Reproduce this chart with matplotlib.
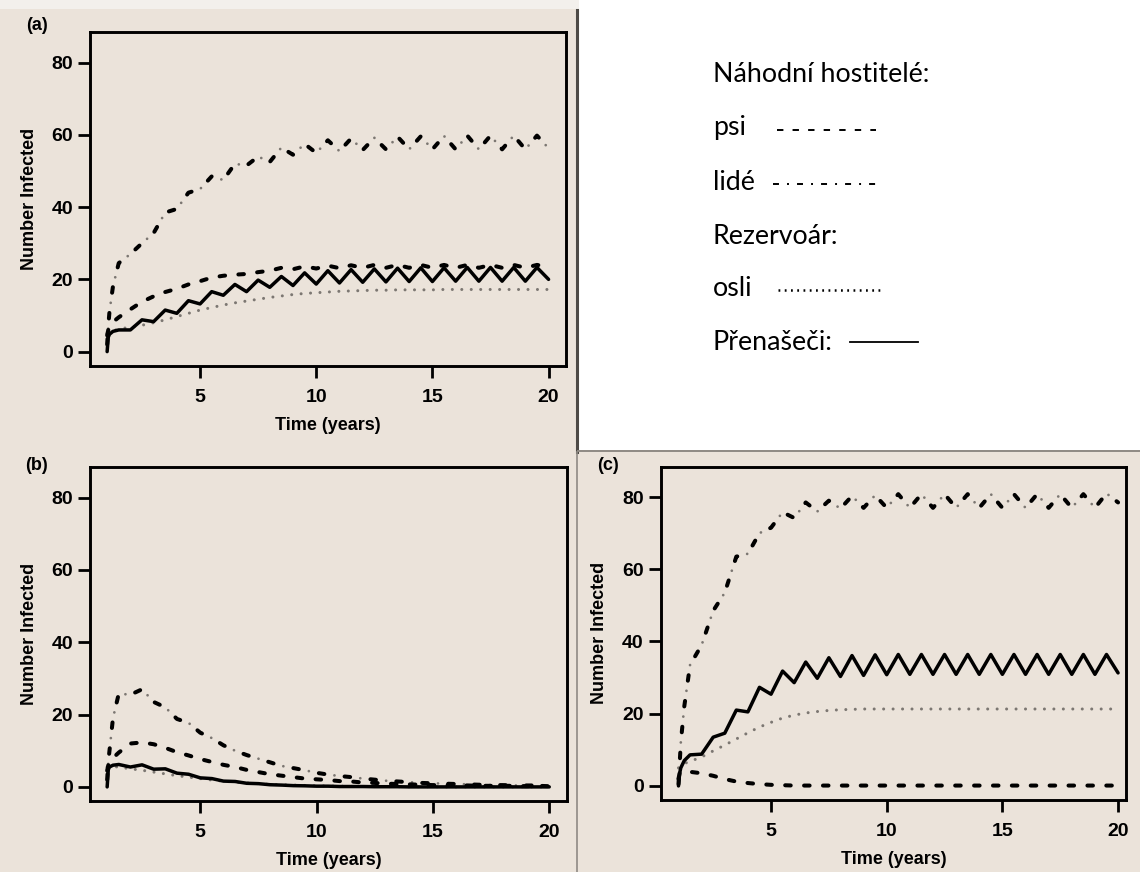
import matplotlib
matplotlib.use("Agg")
import matplotlib.pyplot as plt
from matplotlib.lines import Line2D
from matplotlib.patches import Rectangle

plt.rcParams['lines.scale_dashes'] = False
plt.rcParams['font.family'] = ['Liberation Sans', 'DejaVu Sans']
plt.rcParams['font.weight'] = 'bold'

# ---------------- data ----------------
time_years = [1.0, 1.05, 1.1, 1.25, 1.5, 2.0, 2.5, 3.0, 3.5, 4.0, 4.5, 5.0, 5.5, 6.0,
              6.5, 7.0, 7.5, 8.0, 8.5, 9.0, 9.5, 10.0, 10.5, 11.0, 11.5, 12.0, 12.5,
              13.0, 13.5, 14.0, 14.5, 15.0, 15.5, 16.0, 16.5, 17.0, 17.5, 18.0, 18.5,
              19.0, 19.5, 20.0]

# panel (a)
vectors_a = [0.0, 4.0, 4.8, 5.6, 6.0, 6.0, 8.8, 8.3, 11.5, 10.6, 14.1, 13.2, 16.6, 15.6,
             18.6, 16.6, 19.8, 17.8, 20.8, 18.3, 21.8, 18.7, 22.4, 19.0, 22.7, 19.2, 22.9,
             19.3, 23.1, 19.4, 23.2, 19.4, 23.2, 19.5, 23.3, 19.5, 23.3, 19.5, 23.3, 19.5,
             23.3, 20.0]
dogs_a = [4.5, 6.0, 7.0, 8.2, 9.5, 11.7, 13.8, 15.3, 16.5, 17.4, 18.6, 19.5, 20.5, 21.0,
          21.3, 21.5, 22.0, 22.4, 23.2, 22.8, 23.6, 23.0, 23.8, 23.1, 23.9, 23.2, 24.0,
          23.2, 24.0, 23.2, 24.0, 23.2, 24.0, 23.2, 24.0, 23.2, 24.0, 23.2, 24.0, 23.2,
          24.0, 23.5]
humans_a = [2.0, 7.0, 11.0, 18.0, 24.5, 27.0, 30.0, 32.8, 38.5, 39.5, 44.0, 45.0, 48.5, 47.5,
            52.0, 51.5, 54.0, 52.5, 56.5, 54.5, 57.5, 55.0, 58.5, 55.5, 59.0, 55.8, 59.2,
            56.0, 59.5, 56.0, 59.6, 56.0, 59.7, 56.0, 59.8, 56.0, 59.8, 56.0, 59.8, 56.0,
            59.8, 56.3]
donkeys_a = [5.0, 5.3, 5.5, 5.8, 6.2, 6.8, 7.3, 8.0, 8.8, 9.7, 10.6, 11.5, 12.2, 12.9,
             13.5, 14.0, 14.5, 15.0, 15.4, 15.8, 16.1, 16.3, 16.5, 16.7, 16.8, 16.9, 17.0,
             17.0, 17.1, 17.1, 17.1, 17.1, 17.2, 17.2, 17.2, 17.2, 17.2, 17.2, 17.2, 17.2,
             17.2, 17.2]

# panel (b)
vectors_b = [0.0, 4.8, 5.5, 6.0, 6.2, 5.5, 6.1, 4.9, 5.0, 3.8, 3.5, 2.5, 2.3, 1.6,
             1.5, 1.0, 0.9, 0.6, 0.5, 0.35, 0.3, 0.2, 0.2, 0.1, 0.1, 0.1, 0.05,
             0.05, 0.05, 0.0, 0.0, 0.0, 0.0, 0.0, 0.0, 0.0, 0.0, 0.0, 0.0, 0.0,
             0.0, 0.0]
dogs_b = [4.5, 6.0, 7.0, 8.0, 9.5, 12.0, 12.3, 11.8, 10.8, 9.6, 8.7, 7.7, 6.9, 6.1,
          5.5, 4.7, 4.1, 3.5, 3.1, 2.7, 2.3, 2.1, 1.9, 1.6, 1.5, 1.2, 1.1,
          0.9, 0.8, 0.7, 0.6, 0.5, 0.5, 0.4, 0.4, 0.3, 0.3, 0.3, 0.3, 0.2,
          0.3, 0.2]
humans_b = [2.0, 7.0, 10.0, 19.0, 25.8, 25.5, 27.0, 23.5, 22.0, 18.8, 17.7, 15.0, 13.5, 11.5,
            10.0, 8.8, 7.8, 6.8, 5.8, 5.2, 4.6, 3.9, 3.4, 3.0, 2.7, 2.3, 2.0,
            1.7, 1.5, 1.3, 1.1, 1.0, 0.9, 0.8, 0.7, 0.6, 0.5, 0.5, 0.4, 0.4,
            0.4, 0.3]
donkeys_b = [5.5, 5.6, 5.6, 5.6, 5.5, 5.0, 4.6, 4.1, 3.6, 3.1, 2.7, 2.3, 1.9, 1.6,
             1.3, 1.1, 0.9, 0.7, 0.6, 0.5, 0.4, 0.3, 0.25, 0.2, 0.15, 0.1, 0.1,
             0.1, 0.05, 0.05, 0.05, 0.05, 0.0, 0.0, 0.0, 0.0, 0.0, 0.0, 0.0, 0.0,
             0.0, 0.0]

# panel (c)
vectors_c = [0.0, 3.5, 5.0, 7.0, 8.6, 8.8, 13.5, 14.6, 21.0, 20.5, 27.3, 25.4, 31.8, 28.6,
             34.3, 29.8, 35.5, 30.3, 36.1, 30.6, 36.3, 30.8, 36.4, 30.9, 36.4, 30.9, 36.4,
             30.9, 36.4, 30.9, 36.4, 30.9, 36.4, 30.9, 36.4, 30.9, 36.4, 30.9, 36.4, 30.9,
             36.4, 31.3]
dogs_c = [2.0, 3.5, 4.0, 4.0, 3.9, 3.5, 2.8, 1.9, 1.2, 0.8, 0.5, 0.3, 0.2, 0.1,
          0.1, 0.1, 0.1, 0.1, 0.1, 0.1, 0.1, 0.1, 0.1, 0.1, 0.1, 0.1, 0.1,
          0.1, 0.1, 0.1, 0.1, 0.1, 0.1, 0.1, 0.1, 0.1, 0.1, 0.1, 0.1, 0.1,
          0.1, 0.1]
humans_c = [0.5, 6.0, 12.0, 22.0, 33.5, 39.0, 48.5, 53.5, 63.5, 64.3, 70.0, 71.5, 75.8, 74.2,
            78.5, 76.0, 79.0, 76.8, 80.3, 77.0, 80.5, 77.0, 80.8, 77.0, 80.8, 77.0, 80.8,
            77.0, 80.8, 77.0, 80.8, 77.0, 80.8, 77.0, 80.8, 77.0, 80.8, 77.0, 80.8, 77.0,
            81.0, 78.5]
donkeys_c = [5.0, 5.3, 5.6, 6.2, 6.8, 8.0, 9.7, 11.3, 13.0, 14.7, 16.3, 17.6, 18.8, 19.6,
             20.2, 20.6, 20.9, 21.1, 21.2, 21.3, 21.3, 21.3, 21.3, 21.3, 21.3, 21.3, 21.3,
             21.3, 21.3, 21.3, 21.3, 21.3, 21.3, 21.3, 21.3, 21.3, 21.3, 21.3, 21.3, 21.3,
             21.3, 21.3]

x_ticks = [5, 10, 15, 20]
y_ticks = [0, 20, 40, 60, 80]
panel_labels = ['(a)', '(b)', '(c)']
x_label = 'Time (years)'
y_label = 'Number Infected'
legend_lines = ['Náhodní hostitelé:', 'psi', 'lidé', 'Rezervoár:', 'osli', 'Přenašeči:']

# ---------------- figure ----------------
W, H = 1140, 872
BG = '#ebe3da'
fig = plt.figure(figsize=(W / 100, H / 100), dpi=100, facecolor=BG)


def fx(px):
    return px / W


def fy(py):
    return 1 - py / H


# white legend area + borders
fig.add_artist(Rectangle((fx(579), fy(450)), 1 - fx(579), fy(0) - fy(450),
                         transform=fig.transFigure, facecolor='white', edgecolor='none', zorder=0))
fig.add_artist(Rectangle((0, fy(9)), fx(579), 1 - fy(9), transform=fig.transFigure,
                         facecolor='#f3f0ec', edgecolor='none', zorder=0))
fig.add_artist(Line2D([fx(577), fx(577)], [fy(10), fy(452)], transform=fig.transFigure,
                      color='#4d4a46', lw=2.2, zorder=1))
fig.add_artist(Line2D([fx(578), fx(1140)], [fy(451), fy(451)], transform=fig.transFigure,
                      color='#8f8a84', lw=1.4, zorder=1))
fig.add_artist(Line2D([fx(577), fx(577)], [fy(452), fy(872)], transform=fig.transFigure,
                      color='#8f8a84', lw=1.2, zorder=1))

axes_px = [
    (90.4, 32.3, 566.0, 365.7, (0.28, 20.75)),
    (90.4, 467.3, 566.7, 801.0, (0.28, 20.75)),
    (660.9, 466.7, 1126.4, 800.0, (0.24, 20.36)),
]
ylab_x = [-0.110, -0.110, -0.114]

series = [
    (vectors_a, dogs_a, humans_a, donkeys_a),
    (vectors_b, dogs_b, humans_b, donkeys_b),
    (vectors_c, dogs_c, humans_c, donkeys_c),
]

GRAY = '#7c7772'
for i, (l, t, r, b, xl) in enumerate(axes_px):
    ax = fig.add_axes([fx(l), fy(b), fx(r) - fx(l), fy(t) - fy(b)])
    ax.set_facecolor(BG)
    vec, dog, hum, don = series[i]
    # donkeys: dotted grey
    ax.plot(time_years, don, color=GRAY, lw=2.2, linestyle=(0, (0.01, 6.8)),
            dash_capstyle='round')
    # humans: dash-dot (black dashes, grey dots)
    ax.plot(time_years, hum, color=GRAY, lw=2.0, linestyle=(7.35, (0.01, 18.69)),
            dash_capstyle='round')
    ax.plot(time_years, hum, color='black', lw=2.9, linestyle=(0, (4.0, 14.7)),
            dash_capstyle='round')
    # dogs: dashed
    ax.plot(time_years, dog, color='black', lw=2.9, linestyle=(0, (4.0, 9.6)),
            dash_capstyle='round')
    # vectors: solid
    ax.plot(time_years, vec, color='black', lw=2.5, solid_joinstyle='round',
            solid_capstyle='round')

    ax.set_xlim(*xl)
    ax.set_ylim(-3.9, 88.4)
    ax.set_xticks(x_ticks)
    ax.set_yticks(y_ticks)
    ax.tick_params(axis='both', direction='out', length=8.8, width=2.0, labelsize=14,
                   colors='black')
    ax.tick_params(axis='x', pad=8)
    ax.tick_params(axis='y', pad=3.5)
    for sp in ax.spines.values():
        sp.set_linewidth(2.1)
        sp.set_color('black')
    ax.set_xlabel(x_label, fontsize=13, fontweight='bold', labelpad=8)
    ax.set_ylabel(y_label, fontsize=13, fontweight='bold')
    ax.yaxis.set_label_coords(ylab_x[i], 0.5)

# panel letters
for lab, (px, py) in zip(panel_labels, [(37, 25), (37, 465), (608, 465)]):
    fig.text(fx(px), fy(py), lab, fontsize=13, fontweight='bold', ha='center', va='center')

# legend text (normal weight, Calibri-like)
LF = ['Lato', 'DejaVu Sans']
rows_y = [75, 128, 182, 237, 289, 342]
for txt, yy in zip(legend_lines, rows_y):
    fig.text(fx(713), fy(yy), txt, fontsize=19.3, fontweight='normal', family=LF,
             ha='left', va='center', color='black')

# legend samples
fig.add_artist(Line2D([fx(777), fx(876)], [fy(130), fy(130)], transform=fig.transFigure,
                      color='black', lw=1.4, linestyle=(0, (4.6, 6.6)), dash_capstyle='butt'))
fig.add_artist(Line2D([fx(773), fx(882)], [fy(184), fy(184)], transform=fig.transFigure,
                      color='black', lw=1.4, linestyle=(0, (4.3, 5.8, 1.4, 5.8)),
                      dash_capstyle='butt'))
fig.add_artist(Line2D([fx(778), fx(884)], [fy(290), fy(290)], transform=fig.transFigure,
                      color='black', lw=1.8, linestyle=(0, (1.3, 3.2)), dash_capstyle='butt'))
fig.add_artist(Line2D([fx(850), fx(918)], [fy(342), fy(342)], transform=fig.transFigure,
                      color='black', lw=1.3))

fig.savefig('out.png', dpi=100, facecolor=BG)
